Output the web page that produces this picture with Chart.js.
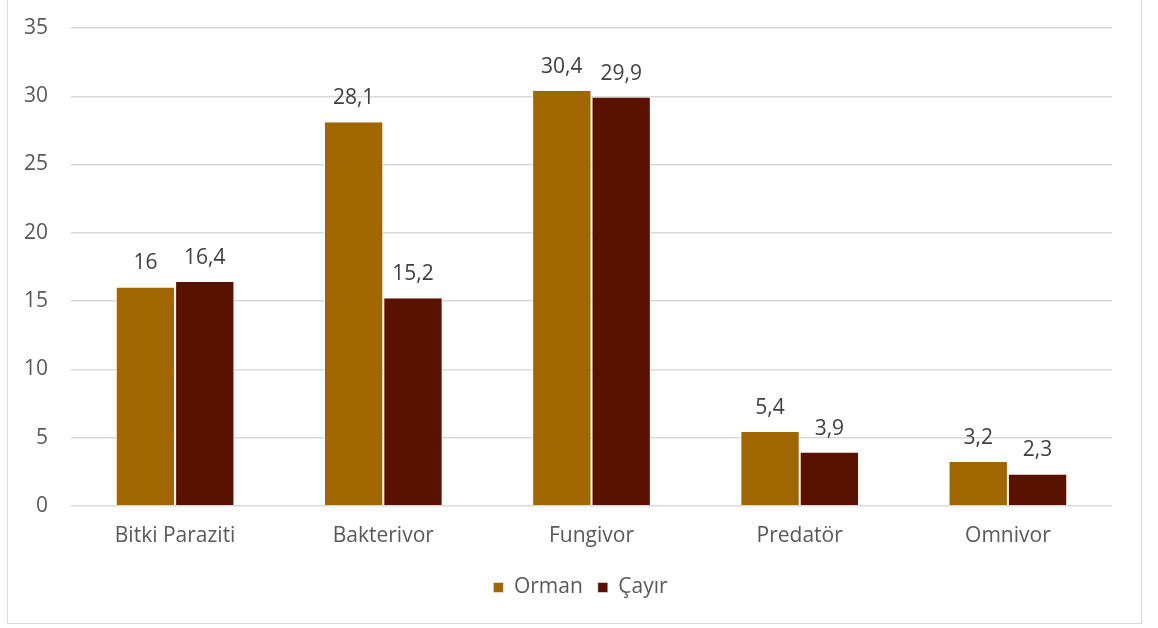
<!DOCTYPE html>
<html>
<head>
<meta charset="utf-8">
<script src="https://cdn.jsdelivr.net/npm/chart.js@4.4.1/dist/chart.umd.min.js"></script>
<style>
  html, body { margin: 0; padding: 0; background: #fff; }
  #frame {
    position: absolute; left: 7px; top: -1px;
    width: 1133px; height: 623px;
    border: 1px solid #d9d9d9;
  }
  canvas { display: block; }
</style>
</head>
<body>
<div id="frame"><canvas id="chart" width="1133" height="623"></canvas></div>
<script>
const categories = ["Bitki Paraziti", "Bakterivor", "Fungivor", "Predatör", "Omnivor"];
const orman = [16, 28.1, 30.4, 5.4, 3.2];
const cayir = [16.4, 15.2, 29.9, 3.9, 2.3];
const yTicks = [0, 5, 10, 15, 20, 25, 30, 35];

const FONT = "'Open Sans', sans-serif";

// writes each bar's value above it, with a decimal comma
const valueLabels = {
  id: "valueLabels",
  afterDatasetsDraw(chart) {
    const ctx = chart.ctx;
    ctx.save();
    ctx.font = "21px " + FONT;
    ctx.fillStyle = "#404040";
    ctx.textAlign = "center";
    ctx.textBaseline = "alphabetic";
    chart.data.datasets.forEach((ds, i) => {
      chart.getDatasetMeta(i).data.forEach((bar, j) => {
        const txt = String(ds.data[j]).replace(".", ",");
        ctx.fillText(txt, bar.x, bar.y - 18);
      });
    });
    ctx.restore();
  }
};

// nudge the legend a little right of the canvas centre
const legendShift = {
  id: "legendShift",
  afterLayout(chart) {
    const lg = chart.legend;
    const dx = (chart.chartArea.left + chart.chartArea.right) / 2 - (lg.left + lg.right) / 2 - 11;
    lg.left += dx;
    lg.right += dx;
  }
};

new Chart(document.getElementById("chart"), {
  type: "bar",
  data: {
    labels: categories,
    datasets: [
      { label: "Orman", data: orman, backgroundColor: "#a06600" },
      { label: "Çayır", data: cayir, backgroundColor: "#5a1200" }
    ]
  },
  options: {
    responsive: false,
    animation: false,
    layout: { padding: { top: 28, right: 29, bottom: 15, left: 0 } },
    datasets: {
      bar: {
        categoryPercentage: 0.57,
        barPercentage: 1,
        borderColor: "#ffffff",
        borderWidth: { left: 1, right: 1, top: 0, bottom: 0 },
        borderSkipped: false
      }
    },
    scales: {
      x: {
        afterFit(scale) { scale.height += 3; },
        grid: { display: false },
        border: { display: false },
        ticks: { color: "#595959", font: { family: FONT, size: 21 }, padding: 10 }
      },
      y: {
        min: 0,
        max: 35,
        afterFit(scale) {
          scale.width = 63;
          scale.paddingTop = 0;
          scale.paddingBottom = 0;
        },
        afterBuildTicks(scale) { scale.ticks = yTicks.map(v => ({ value: v })); },
        grid: { color: "#d9d9d9", lineWidth: 1.5, drawTicks: false },
        border: { display: false },
        ticks: { color: "#595959", font: { family: FONT, size: 21 }, padding: 23 }
      }
    },
    plugins: {
      legend: {
        position: "bottom",
        labels: {
          color: "#595959",
          font: { family: FONT, size: 21 },
          boxWidth: 10,
          boxHeight: 10,
          padding: 15
        }
      },
      tooltip: { enabled: false }
    }
  },
  plugins: [valueLabels, legendShift]
});
</script>
</body>
</html>
